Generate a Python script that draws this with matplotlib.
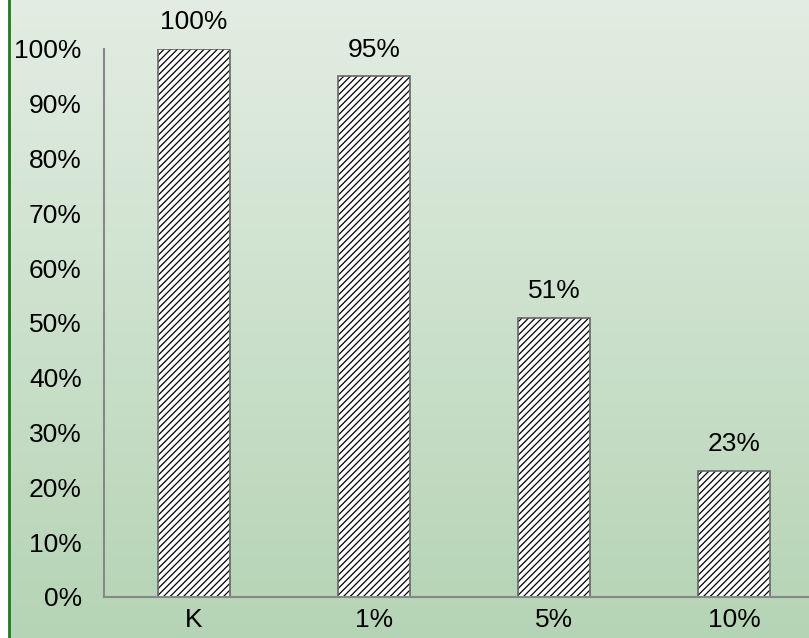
import numpy as np
import matplotlib.pyplot as plt

# data
categories = ['K', '1%', '5%', '10%']
values = [100, 95, 51, 23]
yticks = [0, 10, 20, 30, 40, 50, 60, 70, 80, 90, 100]

plt.rcParams['font.family'] = ['Liberation Sans', 'DejaVu Sans']
plt.rcParams['hatch.linewidth'] = 0.9

fig = plt.figure(figsize=(8.09, 6.38), dpi=100)

# gradient background
bg = fig.add_axes([0, 0, 1, 1], zorder=0)
top = np.array([0.89, 0.93, 0.89])
bot = np.array([0.71, 0.83, 0.71])
t = np.linspace(0, 1, 256)[:, None]
grad = (top * (1 - t) + bot * t)[:, None, :]
bg.imshow(grad, aspect='auto', extent=[0, 1, 0, 1])
bg.axvspan(0, 8 / 809, color='white')
bg.axvline(9 / 809, color='#1e7a1e', lw=2)
bg.set_xlim(0, 1)
bg.set_ylim(0, 1)
bg.axis('off')

# main axes (right end runs off the figure like the original)
ax = fig.add_axes([104 / 809, 41 / 638, 720 / 809, 548 / 638], zorder=1)
ax.patch.set_alpha(0)
x = np.arange(len(categories))
bars = ax.bar(x, values, width=0.4, color='white', edgecolor='#666666',
              hatch='/////', linewidth=1.2)
for b in bars:
    b._hatch_color = (0, 0, 0, 1)

for xi, v in zip(x, values):
    ax.text(xi, v + 2.7, f'{v}%', ha='center', va='bottom', fontsize=19)

ax.set_xlim(-0.5, 3.5)
ax.set_ylim(0, 100)
ax.set_xticks(x)
ax.set_xticklabels(categories, fontsize=19)
ax.set_yticks(yticks)
ax.set_yticklabels([f'{v}%' for v in yticks], fontsize=19)
ax.tick_params(axis='both', length=0)
ax.tick_params(axis='y', pad=16)
ax.tick_params(axis='x', pad=8)
for s in ['top', 'right']:
    ax.spines[s].set_visible(False)
for s in ['left', 'bottom']:
    ax.spines[s].set_color('#888888')
    ax.spines[s].set_linewidth(1.5)

fig.savefig('out.png', dpi=100)
